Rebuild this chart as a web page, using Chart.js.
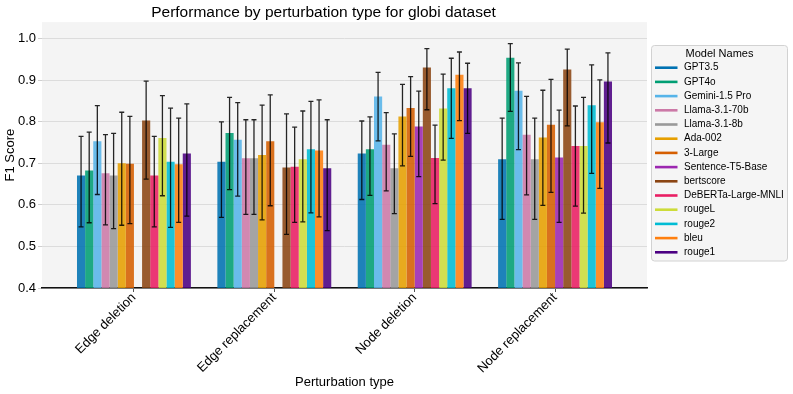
<!DOCTYPE html>
<html><head><meta charset="utf-8">
<script src="https://cdn.jsdelivr.net/npm/chart.js@4.4.0/dist/chart.umd.min.js"></script>
<style>html,body{margin:0;padding:0;background:#fff;overflow:hidden}</style>
</head><body>
<canvas id="c" width="793" height="394"></canvas>
<script>
const categories = ['Edge deletion', 'Edge replacement', 'Node deletion', 'Node replacement'];
const modelNames = ['GPT3.5', 'GPT4o', 'Gemini-1.5 Pro', 'Llama-3.1-70b', 'Llama-3.1-8b', 'Ada-002', '3-Large',
  'Sentence-T5-Base', 'bertscore', 'DeBERTa-Large-MNLI', 'rougeL', 'rouge2', 'bleu', 'rouge1'];
const modelColors = ['#0072B2', '#009E73', '#56B4E9', '#CC79A7', '#999999', '#E69F00', '#D55E00',
  '#9C27B0', '#8B4513', '#E91E63', '#CDDC39', '#00BCD4', '#FF7F0E', '#4B0082'];
const yTicks = [0.4, 0.5, 0.6, 0.7, 0.8, 0.9, 1.0];

// F1 means and error-bar ends per category, in modelNames order (null = no bar)
const edgeDeletionMean = [0.671, 0.683, 0.753, 0.676, 0.671, 0.700, 0.699, null, 0.803, 0.671, 0.761, 0.704, 0.698, 0.724];
const edgeDeletionLow  = [0.547, 0.557, 0.625, 0.552, 0.543, 0.551, 0.555, null, 0.662, 0.547, 0.622, 0.546, 0.558, 0.573];
const edgeDeletionHigh = [0.765, 0.775, 0.839, 0.769, 0.772, 0.823, 0.813, null, 0.898, 0.765, 0.863, 0.833, 0.809, 0.843];

const edgeReplacementMean = [0.704, 0.773, 0.757, 0.712, 0.712, 0.720, 0.753, null, 0.690, 0.692, 0.710, 0.734, 0.731, 0.688];
const edgeReplacementLow  = [0.570, 0.637, 0.621, 0.577, 0.577, 0.564, 0.598, null, 0.529, 0.558, 0.559, 0.581, 0.571, 0.538];
const edgeReplacementHigh = [0.800, 0.859, 0.846, 0.805, 0.805, 0.840, 0.865, null, 0.819, 0.787, 0.826, 0.849, 0.853, 0.805];

const nodeDeletionMean = [0.724, 0.734, 0.861, 0.745, 0.688, 0.813, 0.833, 0.789, 0.931, 0.713, 0.832, 0.881, 0.913, 0.881];
const nodeDeletionLow  = [0.613, 0.623, 0.754, 0.634, 0.579, 0.694, 0.717, 0.668, 0.829, 0.603, 0.708, 0.760, 0.803, 0.772];
const nodeDeletionHigh = [0.802, 0.812, 0.919, 0.822, 0.771, 0.890, 0.909, 0.874, 0.976, 0.792, 0.915, 0.953, 0.968, 0.941];

const nodeReplacementMean = [0.710, 0.954, 0.875, 0.769, 0.710, 0.762, 0.793, 0.714, 0.926, 0.742, 0.742, 0.840, 0.799, 0.897];
const nodeReplacementLow  = [0.565, 0.825, 0.733, 0.624, 0.565, 0.599, 0.630, 0.558, 0.790, 0.597, 0.580, 0.676, 0.640, 0.749];
const nodeReplacementHigh = [0.809, 0.988, 0.942, 0.861, 0.809, 0.876, 0.902, 0.828, 0.975, 0.838, 0.859, 0.937, 0.901, 0.966];

const meanByCat = [edgeDeletionMean, edgeReplacementMean, nodeDeletionMean, nodeReplacementMean];
const lowByCat = [edgeDeletionLow, edgeReplacementLow, nodeDeletionLow, nodeReplacementLow];
const highByCat = [edgeDeletionHigh, edgeReplacementHigh, nodeDeletionHigh, nodeReplacementHigh];

const FONT = "'Liberation Sans', Arial, Helvetica, sans-serif";

function hexA(hex, a) {
  const n = parseInt(hex.slice(1), 16);
  return `rgba(${(n >> 16) & 255},${(n >> 8) & 255},${n & 255},${a})`;
}

const datasets = modelNames.map((name, m) => ({
  label: name,
  data: categories.map((c, i) => ({ x: i, y: meanByCat[i][m] })),
  low: categories.map((c, i) => lowByCat[i][m]),
  high: categories.map((c, i) => highByCat[i][m]),
  backgroundColor: hexA(modelColors[m], 0.88),
  lineColor: modelColors[m],
  borderWidth: 0,
  categoryPercentage: 0.8114,
  barPercentage: 1.0
}));

const bgPlugin = {
  id: 'bg',
  beforeDraw(chart) {
    const { ctx, chartArea: a } = chart;
    ctx.save();
    ctx.fillStyle = '#f4f4f4';
    ctx.fillRect(a.left, a.top, a.right - a.left, a.bottom - a.top);
    ctx.restore();
  }
};

const errPlugin = {
  id: 'errbars',
  afterDatasetsDraw(chart) {
    const { ctx } = chart;
    const ys = chart.scales.y;
    ctx.save();
    ctx.strokeStyle = 'rgba(0,0,0,0.85)';
    ctx.lineWidth = 1.3;
    chart.data.datasets.forEach((ds, d) => {
      const meta = chart.getDatasetMeta(d);
      meta.data.forEach((el, j) => {
        if (ds.data[j].y == null || ds.low[j] == null) return;
        const x = el.x;
        const y1 = ys.getPixelForValue(ds.low[j]);
        const y2 = ys.getPixelForValue(ds.high[j]);
        ctx.beginPath();
        ctx.moveTo(x, y1); ctx.lineTo(x, y2);
        ctx.moveTo(x - 2.5, y1); ctx.lineTo(x + 2.5, y1);
        ctx.moveTo(x - 2.5, y2); ctx.lineTo(x + 2.5, y2);
        ctx.stroke();
      });
    });
    ctx.restore();
  }
};

const legendPlugin = {
  id: 'customLegend',
  afterDraw(chart) {
    const { ctx, chartArea: a } = chart;
    const left = a.right + 4.5, top = 45.5, w = 136, h = 215.5;
    ctx.save();
    ctx.beginPath();
    ctx.roundRect(left, top, w, h, 3);
    ctx.fillStyle = 'rgba(244,244,244,0.9)';
    ctx.fill();
    ctx.strokeStyle = '#d2d2d2';
    ctx.lineWidth = 1;
    ctx.stroke();
    ctx.fillStyle = '#000';
    ctx.textBaseline = 'middle';
    ctx.textAlign = 'center';
    ctx.font = `11px ${FONT}`;
    ctx.fillText('Model Names', left + w / 2, top + 8);
    ctx.textAlign = 'left';
    ctx.font = `10px ${FONT}`;
    chart.data.datasets.forEach((ds, i) => {
      const y = top + 22.2 + i * 14.2;
      ctx.strokeStyle = ds.lineColor;
      ctx.lineWidth = 2.6;
      ctx.beginPath();
      ctx.moveTo(left + 3.5, y); ctx.lineTo(left + 26, y);
      ctx.stroke();
      ctx.fillStyle = '#000';
      ctx.fillText(ds.label, left + 32.5, y);
    });
    ctx.restore();
  }
};

new Chart(document.getElementById('c'), {
  type: 'bar',
  data: { datasets },
  plugins: [bgPlugin, errPlugin, legendPlugin],
  options: {
    responsive: false,
    animation: false,
    layout: { padding: { left: 0, right: 146, top: 0, bottom: 0 } },
    plugins: {
      legend: { display: false },
      tooltip: { enabled: false },
      title: {
        display: true,
        text: 'Performance by perturbation type for globi dataset',
        color: '#000',
        font: { family: FONT, size: 15.5, weight: 'normal' },
        padding: { top: 3.5, bottom: 0 }
      }
    },
    scales: {
      x: {
        type: 'linear',
        min: -0.655,
        max: 3.655,
        offset: false,
        afterFit(s) { s.height = 106; },
        afterBuildTicks(s) { s.ticks = categories.map((c, i) => ({ value: i })); },
        ticks: {
          stepSize: 1,
          includeBounds: false,
          autoSkip: false,
          minRotation: 45,
          maxRotation: 45,
          padding: -2,
          color: '#000',
          font: { family: FONT, size: 13 },
          callback: v => categories[v] ?? ''
        },
        grid: { offset: false, drawOnChartArea: false, drawTicks: true, tickLength: 4, tickColor: '#555', color: '#555' },
        border: { display: true, color: '#111', width: 1.5 },
        title: {
          display: true, text: 'Perturbation type', color: '#000',
          font: { family: FONT, size: 13 }, padding: { top: 4, bottom: 4 }
        }
      },
      y: {
        min: 0.4,
        max: 1.04,
        afterFit(s) { s.width = 42; },
        afterBuildTicks(s) { s.ticks = yTicks.map(v => ({ value: v })); },
        ticks: {
          includeBounds: false,
          padding: 2,
          color: '#000',
          font: { family: FONT, size: 13 },
          callback: v => Number(v).toFixed(1)
        },
        grid: { color: '#dcdcdc', lineWidth: 1, tickLength: 4, tickColor: '#cfcfcf' },
        border: { display: false },
        title: {
          display: true, text: 'F1 Score', color: '#000',
          font: { family: FONT, size: 13 }, padding: { top: 3, bottom: 0 }
        }
      }
    }
  }
});
</script>
</body></html>
